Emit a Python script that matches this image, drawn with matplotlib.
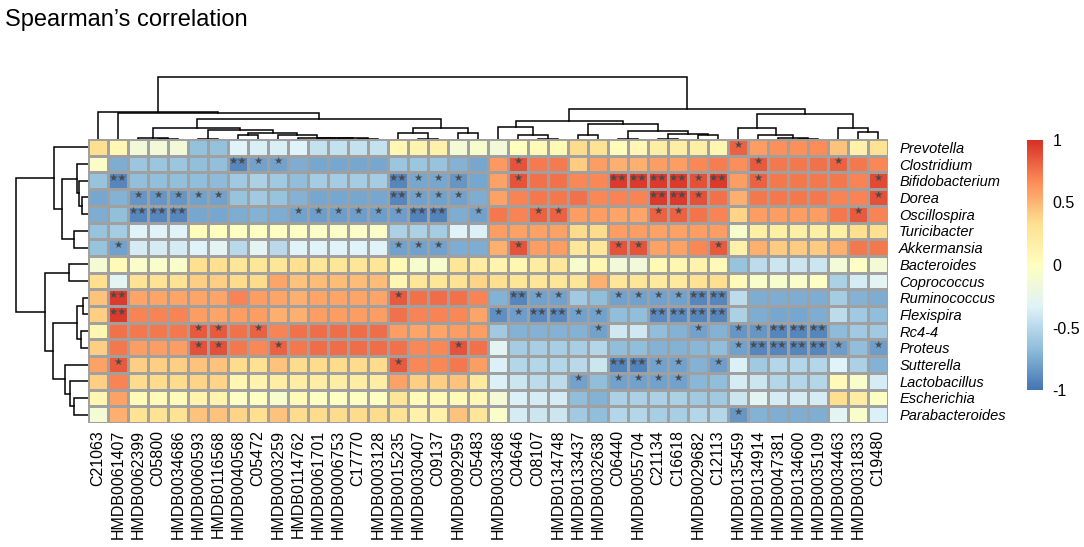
import numpy as np
import matplotlib
matplotlib.use('Agg')
import matplotlib.pyplot as plt
from matplotlib.colors import LinearSegmentedColormap

plt.rcParams['font.family'] = ['Liberation Sans', 'DejaVu Sans']

metabolites = ['C21063', 'HMDB0061407', 'HMDB0062399', 'C05800', 'HMDB0034686',
               'HMDB0060593', 'HMDB0116568', 'HMDB0040568', 'C05472', 'HMDB0003259',
               'HMDB0114762', 'HMDB0061701', 'HMDB0006753', 'C17770', 'HMDB0003128',
               'HMDB0015235', 'HMDB0030407', 'C09137', 'HMDB0092959', 'C05483',
               'HMDB0033468', 'C04646', 'C08107', 'HMDB0134748', 'HMDB0133437',
               'HMDB0032638', 'C06440', 'HMDB0055704', 'C21134', 'C16618',
               'HMDB0029682', 'C12113', 'HMDB0135459', 'HMDB0134914', 'HMDB0047381',
               'HMDB0134600', 'HMDB0035109', 'HMDB0034463', 'HMDB0031833', 'C19480']

genera = ['Prevotella', 'Clostridium', 'Bifidobacterium', 'Dorea', 'Oscillospira',
          'Turicibacter', 'Akkermansia', 'Bacteroides', 'Coprococcus', 'Ruminococcus',
          'Flexispira', 'Rc4-4', 'Proteus', 'Sutterella', 'Lactobacillus',
          'Escherichia', 'Parabacteroides']

# Spearman rho, one row per genus (column order as in metabolites)
rho = np.array([
    [0.33, 0.08, -0.15, -0.15, -0.15, -0.65, -0.65, -0.33, -0.36, -0.36,
     -0.33, -0.45, -0.45, -0.45, -0.45, 0.08, 0.12, 0.15, -0.12, -0.08,
     -0.15, 0.0, 0.05, 0.07, 0.35, 0.3, 0.03, 0.08, 0.18, 0.18,
     0.17, 0.1, 0.82, 0.6, 0.65, 0.65, 0.67, 0.45, 0.15, 0.3],
    [-0.05, -0.75, -0.62, -0.62, -0.62, -0.66, -0.66, -0.92, -0.8, -0.8,
     -0.75, -0.78, -0.78, -0.78, -0.78, -0.62, -0.62, -0.64, -0.72, -0.78,
     0.62, 0.87, 0.73, 0.73, 0.42, 0.6, 0.53, 0.53, 0.6, 0.6,
     0.68, 0.72, 0.66, 0.85, 0.74, 0.74, 0.76, 0.82, 0.74, 0.68],
    [-0.64, -0.92, -0.66, -0.66, -0.66, -0.67, -0.68, -0.6, -0.55, -0.6,
     -0.67, -0.58, -0.58, -0.58, -0.58, -0.92, -0.78, -0.78, -0.85, -0.78,
     0.58, 0.87, 0.76, 0.76, 0.68, 0.68, 0.96, 0.96, 0.96, 0.96,
     0.88, 0.96, 0.6, 0.82, 0.74, 0.74, 0.74, 0.74, 0.7, 0.9],
    [-0.78, -0.72, -0.85, -0.85, -0.85, -0.8, -0.8, -0.64, -0.6, -0.64,
     -0.72, -0.78, -0.78, -0.78, -0.78, -0.92, -0.8, -0.8, -0.8, -0.75,
     0.58, 0.7, 0.74, 0.74, 0.76, 0.68, 0.7, 0.7, 0.96, 0.96,
     0.88, 0.76, 0.53, 0.74, 0.74, 0.74, 0.74, 0.7, 0.7, 0.88],
    [-0.75, -0.66, -0.92, -0.92, -0.92, -0.78, -0.78, -0.75, -0.72, -0.75,
     -0.8, -0.82, -0.82, -0.82, -0.82, -0.82, -0.93, -0.93, -0.75, -0.8,
     0.74, 0.7, 0.82, 0.82, 0.6, 0.6, 0.57, 0.57, 0.82, 0.82,
     0.75, 0.7, 0.38, 0.6, 0.6, 0.6, 0.6, 0.74, 0.85, 0.7],
    [-0.64, -0.58, -0.33, -0.33, -0.33, 0.03, 0.0, -0.02, -0.02, -0.02,
     -0.03, -0.05, -0.05, -0.05, -0.05, -0.55, -0.55, -0.58, -0.33, -0.35,
     0.6, 0.58, 0.58, 0.58, 0.35, 0.35, 0.6, 0.6, 0.58, 0.58,
     0.6, 0.6, -0.08, 0.17, 0.17, 0.17, 0.17, 0.17, 0.33, 0.33],
    [-0.64, -0.8, -0.38, -0.38, -0.38, -0.33, -0.3, -0.5, -0.3, -0.5,
     -0.33, -0.33, -0.33, -0.33, -0.33, -0.8, -0.8, -0.8, -0.75, -0.75,
     0.53, 0.87, 0.6, 0.6, 0.25, 0.25, 0.87, 0.87, 0.58, 0.58,
     0.68, 0.85, 0.15, 0.53, 0.42, 0.42, 0.42, 0.53, 0.74, 0.74],
    [-0.12, 0.06, -0.07, -0.07, -0.07, 0.33, 0.33, 0.27, 0.27, 0.27,
     0.33, 0.27, 0.27, 0.27, 0.27, 0.07, -0.08, -0.08, 0.27, 0.2,
     0.12, 0.1, 0.2, 0.25, -0.08, 0.1, -0.15, -0.15, 0.07, 0.1,
     0.14, 0.06, -0.64, -0.48, -0.42, -0.42, -0.42, -0.14, -0.03, -0.13],
    [0.33, -0.3, 0.3, 0.3, 0.3, 0.4, 0.4, 0.35, 0.35, 0.57,
     0.45, 0.47, 0.47, 0.47, 0.47, 0.1, 0.27, 0.27, 0.3, 0.38,
     0.33, 0.27, 0.27, 0.27, 0.27, 0.52, 0.27, 0.27, 0.22, 0.22,
     0.3, 0.33, 0.05, -0.07, -0.08, -0.07, -0.03, -0.55, -0.38, -0.3],
    [0.45, 0.96, 0.57, 0.57, 0.57, 0.57, 0.57, 0.7, 0.6, 0.57,
     0.53, 0.57, 0.57, 0.57, 0.57, 0.85, 0.76, 0.78, 0.76, 0.7,
     -0.72, -0.92, -0.8, -0.8, -0.6, -0.67, -0.8, -0.8, -0.8, -0.8,
     -0.92, -0.92, -0.48, -0.75, -0.75, -0.75, -0.75, -0.58, -0.72, -0.75],
    [0.4, 0.96, 0.7, 0.7, 0.7, 0.6, 0.57, 0.6, 0.6, 0.53,
     0.53, 0.6, 0.6, 0.6, 0.6, 0.76, 0.7, 0.7, 0.68, 0.57,
     -0.88, -0.82, -0.9, -0.9, -0.8, -0.8, -0.67, -0.67, -0.9, -0.9,
     -0.92, -0.92, -0.55, -0.75, -0.78, -0.78, -0.75, -0.48, -0.6, -0.67],
    [0.1, 0.76, 0.74, 0.74, 0.74, 0.85, 0.85, 0.76, 0.82, 0.7,
     0.76, 0.78, 0.78, 0.78, 0.78, 0.6, 0.57, 0.57, 0.6, 0.6,
     -0.6, -0.72, -0.72, -0.72, -0.72, -0.8, -0.4, -0.4, -0.67, -0.72,
     -0.8, -0.72, -0.85, -0.85, -0.92, -0.92, -0.92, -0.68, -0.6, -0.6],
    [0.4, 0.74, 0.6, 0.6, 0.6, 0.88, 0.88, 0.74, 0.68, 0.82,
     0.74, 0.78, 0.78, 0.78, 0.78, 0.76, 0.68, 0.68, 0.87, 0.76,
     -0.3, -0.58, -0.57, -0.57, -0.57, -0.52, -0.67, -0.67, -0.72, -0.72,
     -0.7, -0.67, -0.8, -0.92, -0.92, -0.92, -0.92, -0.82, -0.67, -0.82],
    [0.58, 0.85, 0.4, 0.4, 0.4, 0.45, 0.45, 0.35, 0.32, 0.45,
     0.35, 0.35, 0.35, 0.35, 0.35, 0.85, 0.68, 0.68, 0.74, 0.6,
     -0.35, -0.52, -0.52, -0.52, -0.5, -0.42, -0.93, -0.93, -0.8, -0.8,
     -0.72, -0.82, -0.35, -0.6, -0.52, -0.52, -0.52, -0.33, -0.55, -0.72],
    [0.4, 0.7, 0.35, 0.35, 0.35, 0.38, 0.38, 0.1, 0.13, 0.18,
     0.18, 0.18, 0.18, 0.18, 0.18, 0.58, 0.4, 0.4, 0.45, 0.22,
     -0.35, -0.42, -0.48, -0.48, -0.8, -0.67, -0.8, -0.8, -0.8, -0.8,
     -0.7, -0.67, -0.38, -0.42, -0.52, -0.52, -0.52, 0.05, -0.07, -0.38],
    [0.1, 0.58, 0.06, 0.06, 0.06, 0.13, 0.13, -0.03, -0.02, -0.08,
     0.06, -0.02, -0.02, -0.02, -0.02, 0.27, 0.05, 0.05, 0.05, 0.08,
     -0.12, -0.35, -0.38, -0.38, -0.67, -0.72, -0.55, -0.55, -0.55, -0.55,
     -0.6, -0.6, -0.42, -0.3, -0.38, -0.38, -0.38, 0.33, 0.2, -0.02],
    [-0.12, 0.53, 0.3, 0.3, 0.3, 0.45, 0.45, 0.38, 0.33, 0.45,
     0.35, 0.35, 0.35, 0.35, 0.35, 0.3, 0.15, 0.15, 0.45, 0.27,
     -0.06, -0.38, -0.42, -0.42, -0.6, -0.67, -0.52, -0.52, -0.57, -0.57,
     -0.52, -0.52, -0.85, -0.72, -0.74, -0.74, -0.74, -0.3, -0.07, -0.35],
])

# significance marks per cell: 0 none, 1 = *, 2 = **
sig_rows = [
    "0000000000 0000000000 0000000000 0010000000",
    "0000000211 0000000000 0100000000 0001000100",
    "0200000000 0000021110 0100002222 1201000001",
    "0011111000 0000021110 0000000022 1000000001",
    "0022200000 1111112201 0011000011 0000000010",
    "0000000000 0000000000 0000000000 0000000000",
    "0100000000 0000011100 0100001100 0100000000",
    "0000000000 0000000000 0000000000 0000000000",
    "0000000000 0000000000 0000000000 0000000000",
    "0200000000 0000010000 0211001111 2200000000",
    "0200000000 0000000000 1122110022 2200000000",
    "0000011010 0000000000 0000010000 1011222000",
    "0000011001 0000000010 0000000000 0012222101",
    "0100000000 0000010000 0000002211 0100000000",
    "0000000000 0000000000 0000101111 0000000000",
    "0000000000 0000000000 0000000000 0000000000",
    "0000000000 0000000000 0000000000 0010000000",
]

# column dendrogram merges: (child a, child b, height); nodes numbered from 40
col_merges = [
    (3, 4, 0.5), (2, 40, 1.0), (5, 6, 0.5), (7, 8, 4.0),
    (13, 14, 0.3), (12, 44, 0.6), (11, 45, 0.9), (10, 46, 1.2),
    (9, 47, 4.0), (43, 48, 6.3), (42, 49, 9.5), (41, 50, 11.3),
    (16, 17, 0.5), (15, 52, 6.3), (18, 19, 6.3), (53, 54, 11.3),
    (51, 55, 19.7), (1, 56, 25.7), (0, 57, 27.3),
    (22, 23, 0.5), (21, 59, 4.0), (20, 60, 12.3), (24, 25, 4.0),
    (26, 27, 0.5), (28, 29, 0.5), (30, 31, 4.0), (64, 65, 5.0),
    (63, 66, 8.3), (62, 67, 14.7), (61, 68, 18.3),
    (35, 36, 0.5), (34, 70, 1.0), (33, 71, 4.0), (32, 72, 11.3),
    (38, 39, 7.3), (37, 74, 11.3), (73, 75, 24.7), (69, 76, 30.0),
    (58, 77, 62.3),
]

# row dendrogram merges; nodes numbered from 17
row_merges = [
    (3, 4, 6.0), (2, 17, 9.0), (1, 18, 11.5), (5, 6, 14.0),
    (19, 20, 26.3), (0, 21, 34.0), (7, 8, 19.0),
    (9, 10, 5.5), (11, 12, 7.0), (24, 25, 10.7),
    (15, 16, 14.0), (14, 27, 18.0), (13, 28, 23.0),
    (26, 29, 34.7), (23, 30, 43.0), (22, 31, 72.0),
]


def dendro_lines(merges, n):
    pos = {i: i + 0.5 for i in range(n)}
    hgt = {i: 0.0 for i in range(n)}
    lines = []
    for k, (a, b, h) in enumerate(merges):
        lines.append(([pos[a], pos[a], pos[b], pos[b]], [hgt[a], h, h, hgt[b]]))
        pos[n + k] = (pos[a] + pos[b]) / 2
        hgt[n + k] = h
    return lines


cmap = LinearSegmentedColormap.from_list(
    'rdylbu7', ['#4575B4', '#91BFDB', '#E0F3F8', '#FFFFBF', '#FEE090', '#FC8D59', '#D73027'])

W, H = 1084, 547
fig = plt.figure(figsize=(W / 100, H / 100), dpi=100)
fig.patch.set_facecolor('white')


def box(x0, y0, x1, y1):
    return [x0 / W, 1 - y1 / H, (x1 - x0) / W, (y1 - y0) / H]


n_rows, n_cols = rho.shape

# heatmap
ax = fig.add_axes(box(88, 139, 888, 423))
ax.pcolormesh(rho, cmap=cmap, vmin=-1, vmax=1, edgecolors='#a0a0a0', linewidth=0.9)
ax.set_xlim(0, n_cols)
ax.set_ylim(n_rows, 0)
for s in ax.spines.values():
    s.set_visible(False)
ax.set_xticks(np.arange(n_cols) + 0.5)
ax.set_xticklabels(metabolites, rotation=90, fontsize=11.5)
ax.yaxis.tick_right()
ax.set_yticks(np.arange(n_rows) + 0.5)
ax.set_yticklabels(genera, fontsize=10.5, fontstyle='italic')
ax.tick_params(length=0, pad=5)
ax.tick_params(axis='y', pad=8)

for r, row in enumerate(sig_rows):
    marks = row.replace(' ', '')
    for c, m in enumerate(marks):
        if m != '0':
            ax.text(c + 0.5, r + 0.33, '\u2605' * int(m), ha='center', va='center',
                    fontsize=7.5, color='#4a4a4a', family='DejaVu Sans')

# column dendrogram
axt = fig.add_axes(box(88, 70, 888, 139))
for xs, ys in dendro_lines(col_merges, n_cols):
    axt.plot(xs, ys, color='black', lw=1.1, solid_joinstyle='miter')
axt.set_xlim(0, n_cols)
axt.set_ylim(0, 69)
axt.axis('off')

# row dendrogram
axl = fig.add_axes(box(10, 139, 88, 423))
for xs, ys in dendro_lines(row_merges, n_rows):
    axl.plot(ys, xs, color='black', lw=1.1, solid_joinstyle='miter')
axl.set_xlim(78, 0)
axl.set_ylim(n_rows, 0)
axl.axis('off')

# colour legend
axc = fig.add_axes(box(1027, 140, 1043, 390))
grad = np.linspace(-1, 1, 256).reshape(-1, 1)
axc.imshow(grad, cmap=cmap, vmin=-1, vmax=1, aspect='auto', origin='lower',
           extent=[0, 1, -1, 1])
axc.set_xticks([])
axc.yaxis.tick_right()
axc.set_yticks([-1, -0.5, 0, 0.5, 1])
axc.set_yticklabels(['-1', '-0.5', '0', '0.5', '1'], fontsize=11.5)
axc.tick_params(length=0, pad=7)
for s in axc.spines.values():
    s.set_visible(False)

fig.text(5 / W, 1 - 20 / H, 'Spearman\u2019s correlation', fontsize=17, va='center', ha='left')

fig.savefig('out.png', dpi=100)
